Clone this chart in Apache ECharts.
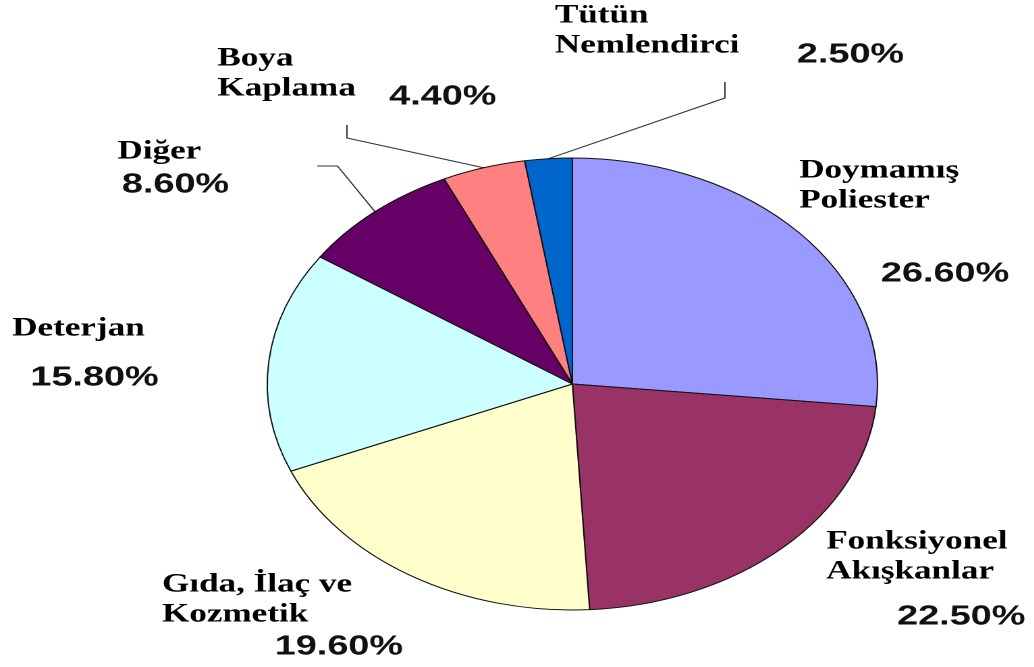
<!DOCTYPE html>
<html>
<head>
<meta charset="utf-8">
<script src="https://cdn.jsdelivr.net/npm/echarts@6/dist/echarts.min.js"></script>
<style>
  html, body { margin: 0; padding: 0; background: #ffffff; overflow: hidden; }
  #wrap { width: 1034px; height: 667px; overflow: hidden; position: relative; }
  /* chart is drawn at natural proportions, then widened horizontally */
  #chart { width: 766px; height: 667px; transform: scaleX(1.35); transform-origin: 0 0; }
</style>
</head>
<body>
<div id="wrap"><div id="chart"></div></div>
<script>
// Sector names (lines joined with \n) and their shares in percent
const categories = [
  'Doymamış\nPoliester',
  'Fonksiyonel\nAkışkanlar',
  'Gıda, İlaç ve\nKozmetik',
  'Deterjan',
  'Diğer',
  'Boya\nKaplama',
  'Tütün\nNemlendirci'
];
const shares = [26.6, 22.5, 19.6, 15.8, 8.6, 4.4, 2.5];
const sliceColors = ['#9999FF', '#993366', '#FFFFCC', '#CCFFFF', '#660066', '#FF8080', '#0066CC'];

// Label placement (chart pixels, before horizontal widening)
const nameAnchors = [
  [592, 156], [612, 527], [120, 570], [9, 314], [87, 137], [161, 44], [411, 1]
];
const percentAnchors = [
  [700, 274], [712, 617], [251, 647], [70, 378], [130, 185], [328, 97], [630, 55]
];
// Leader lines for the small slices: [elbow point, end point]
const leaders = [
  null, null, null, null,
  [[250, 166], [235, 166]],
  [[257, 138], [257, 125]],
  [[537, 98], [537, 82]]
];

const chart = echarts.init(document.getElementById('chart'), null, { renderer: 'canvas', devicePixelRatio: 2 });

const pieCenter = [424, 384];
const pieRadius = 226;

const nameData = categories.map((n, i) => ({
  name: n,
  value: shares[i],
  itemStyle: { color: sliceColors[i] },
  labelLine: { show: !!leaders[i] }
}));
const percentData = categories.map((n, i) => ({ name: n, value: shares[i] }));

chart.setOption({
  backgroundColor: '#ffffff',
  animation: false,
  series: [
    {
      type: 'pie',
      center: pieCenter,
      radius: pieRadius,
      startAngle: 90,
      clockwise: true,
      avoidLabelOverlap: false,
      silent: true,
      itemStyle: { borderColor: '#111111', borderWidth: 1 },
      label: {
        show: true,
        position: 'outside',
        formatter: '{b}',
        fontFamily: 'Liberation Serif',
        fontWeight: 'bold',
        fontSize: 26,
        lineHeight: 30,
        color: '#000000'
      },
      labelLine: {
        show: true,
        lineStyle: { color: '#333333', width: 1 }
      },
      labelLayout: function (params) {
        const i = params.dataIndex;
        const out = {
          x: nameAnchors[i][0],
          y: nameAnchors[i][1],
          align: 'left',
          verticalAlign: 'top'
        };
        if (leaders[i] && params.labelLinePoints) {
          out.labelLinePoints = [params.labelLinePoints[0], leaders[i][0], leaders[i][1]];
        }
        return out;
      },
      data: nameData
    },
    {
      type: 'pie',
      center: pieCenter,
      radius: pieRadius,
      startAngle: 90,
      clockwise: true,
      avoidLabelOverlap: false,
      silent: true,
      itemStyle: { color: 'rgba(0,0,0,0)', borderWidth: 0 },
      label: {
        show: true,
        position: 'outside',
        formatter: p => p.value.toFixed(2) + '%',
        fontFamily: 'Liberation Sans',
        fontWeight: 'bold',
        fontSize: 28,
        color: '#111111'
      },
      labelLine: { show: false },
      labelLayout: function (params) {
        const i = params.dataIndex;
        return {
          x: percentAnchors[i][0],
          y: percentAnchors[i][1],
          align: 'center',
          verticalAlign: 'middle'
        };
      },
      data: percentData
    }
  ]
});
</script>
</body>
</html>
